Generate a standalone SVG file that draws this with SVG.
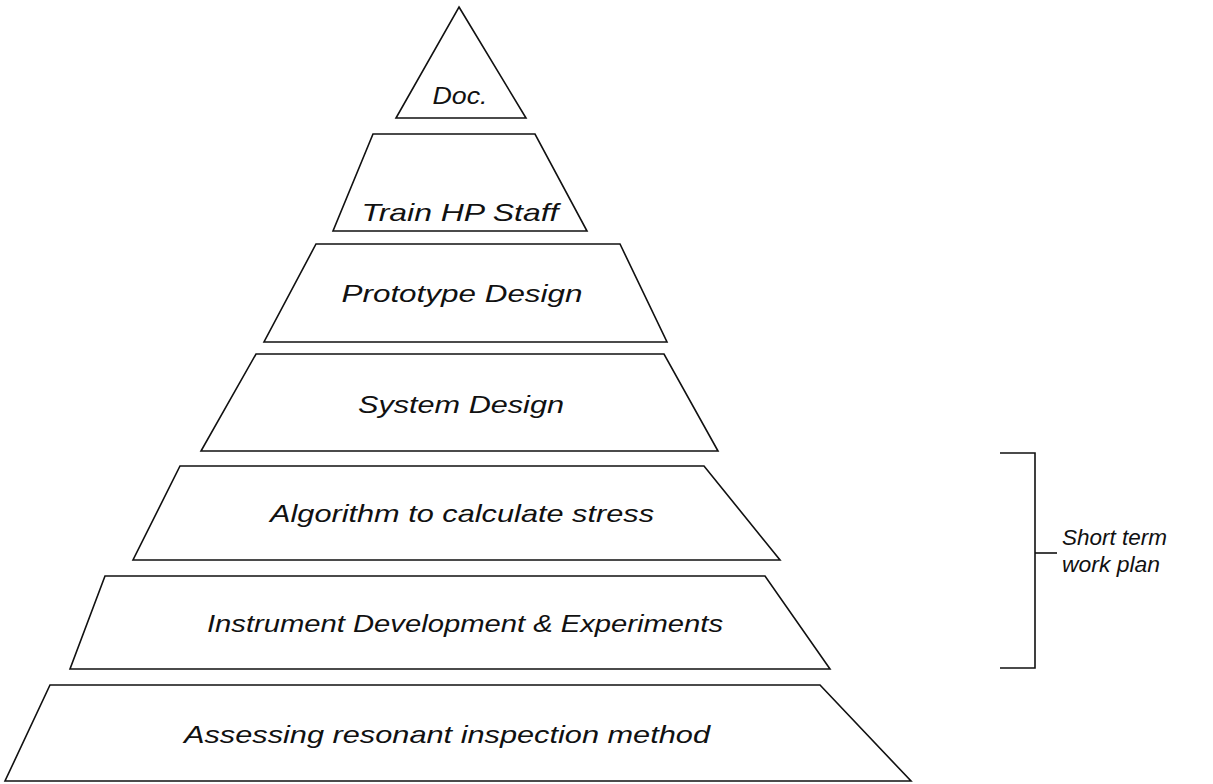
<svg xmlns="http://www.w3.org/2000/svg" width="1213" height="784" viewBox="0 0 1213 784">
<style>
.s{fill:#fff;stroke:#111;stroke-width:1.6;stroke-linejoin:miter}
.t{font-family:"Liberation Sans",Arial,sans-serif;font-style:italic;font-size:24px;fill:#111;text-anchor:middle}
.b{fill:none;stroke:#111;stroke-width:1.6}
.n{font-family:"Liberation Sans",Arial,sans-serif;font-style:italic;font-size:22px;fill:#111}
</style>
<rect width="1213" height="784" fill="#fff"/>
<g id="doc"><polygon class="s" points="459,7 526,118 396,118"/><text class="t" x="460" y="104" textLength="55" lengthAdjust="spacingAndGlyphs">Doc.</text></g>
<g id="train"><polygon class="s" points="373,134 535,134 587,231 333,231"/><text class="t" x="460" y="221" textLength="197" lengthAdjust="spacingAndGlyphs">Train HP Staff</text></g>
<g id="prototype"><polygon class="s" points="316,244 620,244 667,342 264,342"/><text class="t" x="462" y="302" textLength="241" lengthAdjust="spacingAndGlyphs">Prototype Design</text></g>
<g id="system"><polygon class="s" points="256,354 664,354 718,451 201,451"/><text class="t" x="461" y="413" textLength="206" lengthAdjust="spacingAndGlyphs">System Design</text></g>
<g id="algorithm"><polygon class="s" points="180,466 704,466 780,560 133,560"/><text class="t" x="462" y="522" textLength="384" lengthAdjust="spacingAndGlyphs">Algorithm to calculate stress</text></g>
<g id="instrument"><polygon class="s" points="105,576 765,576 830,669 70,669"/><text class="t" x="465" y="632" textLength="516" lengthAdjust="spacingAndGlyphs">Instrument Development &amp;  Experiments</text></g>
<g id="assessing"><polygon class="s" points="50,685 820,685 911,781 5,781"/><text class="t" x="447" y="743" textLength="526" lengthAdjust="spacingAndGlyphs">Assessing resonant inspection method</text></g>
<g id="connectors"><polyline class="b" points="1000,453 1035,453 1035,668 1000,668"/><line class="b" x1="1035" y1="553" x2="1057" y2="553"/></g>
<g id="short-term"><text class="n" x="1062" y="545" textLength="105" lengthAdjust="spacingAndGlyphs">Short term</text><text class="n" x="1062" y="572" textLength="98" lengthAdjust="spacingAndGlyphs">work plan</text></g>
</svg>
